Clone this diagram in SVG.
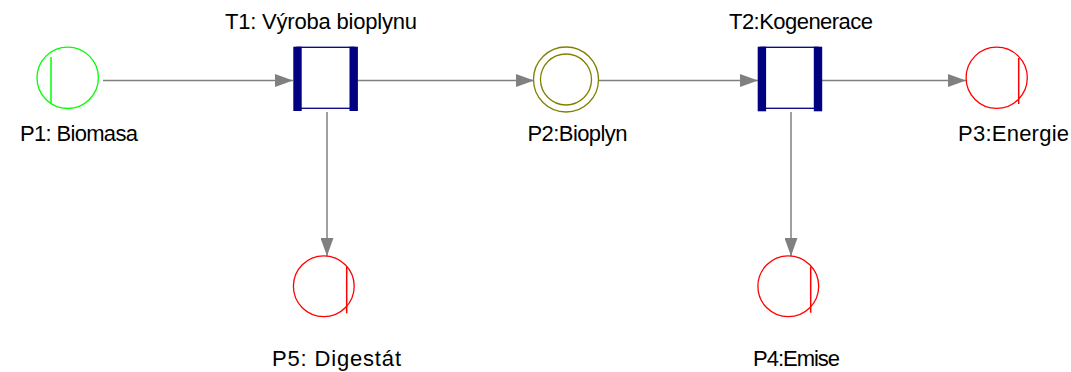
<svg xmlns="http://www.w3.org/2000/svg" width="1071" height="372" viewBox="0 0 1071 372">
<style>
.lbl{font-family:"Liberation Sans",Arial,sans-serif;font-size:22px;fill:#000}
.edge{stroke:#808080;stroke-width:1.5;fill:none;marker-end:url(#ah)}
.pg{fill:#fff;stroke:#00ff00;stroke-width:1.3}
.pr{fill:#fff;stroke:#ff0000;stroke-width:1.3}
.po{fill:#fff;stroke:#808000;stroke-width:1.3}
.bar{fill:#000080}
.box{fill:#fff;stroke:#000080;stroke-width:1.3}
</style>
<defs>
<marker id="ah" markerUnits="userSpaceOnUse" markerWidth="18" markerHeight="13" refX="18" refY="6.5" orient="auto">
<path d="M0,0 L18,6.5 L0,13 z" fill="#808080"/>
</marker>
</defs>
<rect width="1071" height="372" fill="#fff"/>
<g id="connectors">
<line class="edge" x1="103" y1="80.5" x2="293" y2="80.5"/>
<line class="edge" x1="358" y1="80.5" x2="534" y2="80.5"/>
<line class="edge" x1="599" y1="80.5" x2="758" y2="80.5"/>
<line class="edge" x1="822" y1="80.5" x2="966" y2="80.5"/>
<line class="edge" x1="327" y1="112" x2="327" y2="256"/>
<line class="edge" x1="791" y1="112" x2="791" y2="256"/>
</g>
<g id="P1">
<circle class="pg" cx="67.7" cy="77.8" r="30.7"/>
<line x1="51" y1="57" x2="51" y2="103" stroke="#00ff00" stroke-width="1.5"/>
<text class="lbl" x="20" y="141" textLength="118" lengthAdjust="spacing">P1: Biomasa</text>
</g>
<g id="T1">
<rect class="box" x="297" y="47.3" width="57" height="61"/>
<rect class="bar" x="293.3" y="46.7" width="8.4" height="64.3"/>
<rect class="bar" x="349.5" y="46.7" width="8.4" height="64.3"/>
<text class="lbl" x="225" y="29" textLength="192" lengthAdjust="spacing">T1: Výroba bioplynu</text>
</g>
<g id="P2">
<circle class="po" cx="566" cy="79.5" r="32.5"/>
<circle class="po" cx="566" cy="79.5" r="25.5"/>
<text class="lbl" x="527.5" y="141" textLength="100" lengthAdjust="spacing">P2:Bioplyn</text>
</g>
<g id="T2">
<rect class="box" x="761" y="47.3" width="57" height="61"/>
<rect class="bar" x="757.7" y="46.7" width="8.4" height="64.6"/>
<rect class="bar" x="813.8" y="46.7" width="8.4" height="64.6"/>
<text class="lbl" x="729" y="29" textLength="144" lengthAdjust="spacing">T2:Kogenerace</text>
</g>
<g id="P3">
<circle class="pr" cx="996.7" cy="77.8" r="30.6"/>
<line x1="1018.7" y1="58" x2="1018.7" y2="104" stroke="#ff0000" stroke-width="1.5"/>
<text class="lbl" x="958" y="141" textLength="111" lengthAdjust="spacing">P3:Energie</text>
</g>
<g id="P5">
<circle class="pr" cx="323.8" cy="286.3" r="30.4"/>
<line x1="346.7" y1="266.7" x2="346.7" y2="313.3" stroke="#ff0000" stroke-width="1.5"/>
<text class="lbl" x="272" y="366" textLength="129" lengthAdjust="spacing">P5: Digestát</text>
</g>
<g id="P4">
<circle class="pr" cx="788.3" cy="286.3" r="30.4"/>
<line x1="810.7" y1="266.7" x2="810.7" y2="312.7" stroke="#ff0000" stroke-width="1.5"/>
<text class="lbl" x="753" y="366" textLength="87" lengthAdjust="spacing">P4:Emise</text>
</g>
</svg>
